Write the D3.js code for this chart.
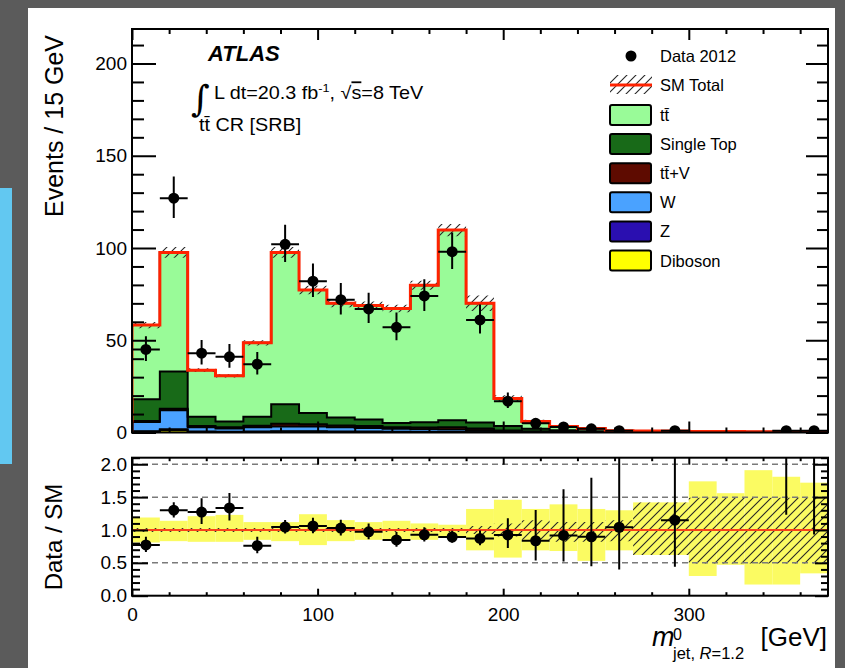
<!DOCTYPE html>
<html>
<head>
<meta charset="utf-8">
<script src="https://cdn.jsdelivr.net/npm/d3@7"></script>
<style>
  body { margin: 0; background: #5b5b5b; }
  svg { display: block; }
</style>
</head>
<body>
<svg id="chart" width="845" height="668"></svg>
<script>
// ---- binning: 15 GeV bins of the leading large-R jet mass ----
const binWidth = 15;
const binLow = [0, 15, 30, 45, 60, 75, 90, 105, 120, 135, 150, 165, 180, 195, 210, 225, 240, 255, 270, 285, 300, 315, 330, 345, 360];

// ---- observed events (Data 2012) ----
const dataCounts = [45, 127, 43, 41, 37, 102, 82, 72, 67, 57, 74, 98, 61, 17, 5, 3, 2, 1, 0, 1, 0, 0, 0, 1, 1];

// ---- background expectations, events per bin ----
const ttbar     = [40.2, 64.6, 25.3, 24.7, 40.1, 82.3, 66.6, 61.9, 61.9, 62.0, 74.3, 103.0, 64.6, 14.9, 4.0, 2.1, 1.5, 0.5, 0.5, 0.6, 0.4, 0.3, 0.3, 0.2, 0.3];
const singleTop = [11.8, 20.1, 5.0, 3.2, 4.8, 10.5, 6.1, 4.3, 3.5, 2.3, 2.8, 3.9, 3.2, 2.35, 1.4, 0.8, 0.5, 0.3, 0.15, 0.15, 0.1, 0.1, 0.05, 0.05, 0.05];
const ttV       = [0.5, 0.8, 0.7, 0.6, 0.9, 1.5, 1.2, 1.0, 1.0, 0.9, 1.0, 1.2, 1.0, 0.4, 0.2, 0.1, 0.08, 0.05, 0.04, 0.04, 0.03, 0.03, 0.02, 0.02, 0.02];
const wjets     = [5.0, 10.4, 2.3, 1.8, 2.3, 2.6, 2.6, 2.3, 2.0, 1.6, 1.4, 1.3, 1.0, 0.6, 0.3, 0.2, 0.1, 0.08, 0.05, 0.05, 0.04, 0.03, 0.02, 0.02, 0.02];
const zjets     = [0.3, 0.5, 0.2, 0.2, 0.2, 0.3, 0.3, 0.2, 0.2, 0.2, 0.1, 0.1, 0.1, 0.05, 0.03, 0.02, 0.02, 0.01, 0.01, 0.01, 0.01, 0.01, 0.01, 0.01, 0.01];
const diboson   = [0.4, 1.2, 0.3, 0.2, 0.3, 0.4, 0.4, 0.3, 0.3, 0.2, 0.2, 0.2, 0.1, 0.1, 0.05, 0.05, 0.03, 0.02, 0.02, 0.02, 0.01, 0.01, 0.01, 0.01, 0.01];

// ---- relative uncertainty bands on the SM total (as Data/SM ratio edges) ----
const sysLo  = [0.81, 0.83, 0.82, 0.82, 0.85, 0.83, 0.77, 0.83, 0.85, 0.85, 0.85, 0.88, 0.69, 0.58, 0.69, 0.68, 0.53, 0.69, 0.62, 0.62, 0.30, 0.47, 0.17, 0.17, 0.34];
const sysHi  = [1.19, 1.14, 1.21, 1.23, 1.12, 1.12, 1.24, 1.15, 1.12, 1.14, 1.10, 1.08, 1.32, 1.46, 1.32, 1.39, 1.32, 1.30, 1.42, 1.42, 1.74, 1.56, 1.91, 1.81, 1.72];
const statLo = [0.97, 0.97, 0.97, 0.97, 0.97, 0.97, 0.97, 0.97, 0.97, 0.97, 0.97, 0.97, 0.94, 0.90, 0.85, 0.82, 0.82, 0.83, 0.62, 0.62, 0.49, 0.49, 0.49, 0.49, 0.49];
const statHi = [1.03, 1.03, 1.03, 1.03, 1.03, 1.03, 1.03, 1.03, 1.03, 1.03, 1.03, 1.03, 1.06, 1.10, 1.15, 1.12, 1.12, 1.15, 1.42, 1.42, 1.49, 1.49, 1.49, 1.49, 1.49];

// ---- axes ----
const xMajorTicks = [0, 100, 200, 300];
const xMinorTicks = [20, 40, 60, 80, 120, 140, 160, 180, 220, 240, 260, 280, 320, 340, 360];
const yMainTicks  = [0, 50, 100, 150, 200];
const yMainMinor  = [10, 20, 30, 40, 60, 70, 80, 90, 110, 120, 130, 140, 160, 170, 180, 190, 210];
const yRatioTicks = [0, 0.5, 1.0, 1.5, 2.0];
const yRatioMinor = [0.1, 0.2, 0.3, 0.4, 0.6, 0.7, 0.8, 0.9, 1.1, 1.2, 1.3, 1.4, 1.6, 1.7, 1.8, 1.9, 2.1];
const ratioGrid   = [0.5, 1.5, 2.0];

// ---- legend ----
const legendData  = "Data 2012";
const legendTotal = "SM Total";
const legendProcesses = [
  { label: "t\u0074\u0304", color: "#99fb98" },
  { label: "Single Top", color: "#186a18" },
  { label: "t\u0074\u0304+V", color: "#5e0b00" },
  { label: "W", color: "#4aa2ff" },
  { label: "Z", color: "#2a0fb0" },
  { label: "Diboson", color: "#ffff00" }
];

const FONT = "'Liberation Sans', Arial, Helvetica, sans-serif";
const svg = d3.select("#chart");

// slide backdrop and white plot canvas
svg.append("rect").attr("width", 845).attr("height", 668).attr("fill", "#5b5b5b");
svg.append("rect").attr("x", 28).attr("y", 8).attr("width", 807).attr("height", 660).attr("fill", "#ffffff");
svg.append("rect").attr("x", 0).attr("y", 188).attr("width", 12).attr("height", 276).attr("fill", "#62c8f1");

// hatch pattern for the SM uncertainty
const defs = svg.append("defs");
defs.append("pattern").attr("id", "hatch").attr("patternUnits", "userSpaceOnUse")
  .attr("width", 9).attr("height", 9)
  .append("path").attr("d", "M0,9 L9,0 M-1,1 L1,-1 M8,10 L10,8")
  .attr("stroke", "#262626").attr("stroke-width", 1.1);

// ---- scales ----
const x = d3.scaleLinear().domain([0, 375]).range([132, 828]);
const yM = d3.scaleLinear().domain([0, 218.7]).range([432.5, 29]);
const yR = d3.scaleLinear().domain([0, 2.1]).range([595.7, 457.7]);

defs.append("clipPath").attr("id", "clipMain").append("rect")
  .attr("x", x(0)).attr("y", yM(218.7)).attr("width", x(375) - x(0)).attr("height", yM(0) - yM(218.7));
defs.append("clipPath").attr("id", "clipRatio").append("rect")
  .attr("x", x(0)).attr("y", yR(2.1)).attr("width", x(375) - x(0)).attr("height", yR(0) - yR(2.1));

// ---- helpers ----
function stepLine(vals, ys) {
  let p = `M${x(binLow[0])},${ys(0)}`;
  vals.forEach((v, i) => { p += `L${x(binLow[i])},${ys(v)}L${x(binLow[i] + binWidth)},${ys(v)}`; });
  p += `L${x(binLow[binLow.length - 1] + binWidth)},${ys(0)}`;
  return p;
}
function stepBand(lo, hi, ys) {
  let p = "";
  hi.forEach((v, i) => { p += `${i ? "L" : "M"}${x(binLow[i])},${ys(v)}L${x(binLow[i] + binWidth)},${ys(v)}`; });
  for (let i = lo.length - 1; i >= 0; i--) p += `L${x(binLow[i] + binWidth)},${ys(lo[i])}L${x(binLow[i])},${ys(lo[i])}`;
  return p + "Z";
}
function poissonErr(n) {
  const s = Math.sqrt(n + 0.25);
  return { up: s + 0.5, down: s - 0.5 };
}

// ---- stacked backgrounds ----
const rows = binLow.map((lo, i) => ({
  diboson: diboson[i], z: zjets[i], w: wjets[i], ttv: ttV[i], st: singleTop[i], tt: ttbar[i]
}));
const keys = ["diboson", "z", "w", "ttv", "st", "tt"];
const colors = { diboson: "#ffff00", z: "#2a0fb0", w: "#4aa2ff", ttv: "#5e0b00", st: "#186a18", tt: "#99fb98" };
const stacked = d3.stack().keys(keys)(rows);
const total = rows.map(r => keys.reduce((s, k) => s + r[k], 0));

const gMain = svg.append("g").attr("clip-path", "url(#clipMain)");
stacked.slice().reverse().forEach(layer => {
  const tops = layer.map(d => d[1]);
  gMain.append("path").attr("d", stepLine(tops, yM)).attr("fill", colors[layer.key]).attr("stroke", "none");
});
stacked.slice().reverse().forEach(layer => {
  const tops = layer.map(d => d[1]);
  gMain.append("path").attr("d", stepLine(tops, yM)).attr("fill", "none")
    .attr("stroke", "#000").attr("stroke-width", 2);
});

// SM total: hatched uncertainty and red outline
gMain.append("path")
  .attr("d", stepBand(total.map((t, i) => t * statLo[i]), total.map((t, i) => t * statHi[i]), yM))
  .attr("fill", "url(#hatch)");
gMain.append("path").attr("d", stepLine(total, yM)).attr("fill", "none")
  .attr("stroke", "#ff2200").attr("stroke-width", 3).attr("stroke-linejoin", "miter");

// data points
function drawPoints(g, vals, errs, ys, r) {
  vals.forEach((v, i) => {
    if (v === null) return;
    const cx = x(binLow[i] + binWidth / 2);
    g.append("line").attr("x1", x(binLow[i])).attr("x2", x(binLow[i] + binWidth))
      .attr("y1", ys(v)).attr("y2", ys(v)).attr("stroke", "#000").attr("stroke-width", 2);
    g.append("line").attr("x1", cx).attr("x2", cx)
      .attr("y1", ys(v + errs[i].up)).attr("y2", ys(Math.max(0, v - errs[i].down)))
      .attr("stroke", "#000").attr("stroke-width", 2);
    g.append("circle").attr("cx", cx).attr("cy", ys(v)).attr("r", r).attr("fill", "#000");
  });
}
const errs = dataCounts.map(poissonErr);
drawPoints(gMain, dataCounts.map(n => n > 0 ? n : null), errs, yM, 5.5);

// ---- ratio panel ----
const gRatio = svg.append("g").attr("clip-path", "url(#clipRatio)");
binLow.forEach((lo, i) => {
  gRatio.append("rect").attr("x", x(lo)).attr("width", x(lo + binWidth) - x(lo))
    .attr("y", yR(sysHi[i])).attr("height", yR(sysLo[i]) - yR(sysHi[i]))
    .attr("fill", "#fbfb62");
});
gRatio.append("path").attr("d", stepBand(statLo, statHi, yR)).attr("fill", "url(#hatch)");
ratioGrid.forEach(v => {
  gRatio.append("line").attr("x1", x(0)).attr("x2", x(375)).attr("y1", yR(v)).attr("y2", yR(v))
    .attr("stroke", "#7a7a7a").attr("stroke-width", 1.5).attr("stroke-dasharray", "6,4");
});
gRatio.append("line").attr("x1", x(0)).attr("x2", x(375)).attr("y1", yR(1)).attr("y2", yR(1))
  .attr("stroke", "#f9421a").attr("stroke-width", 2);
const ratioVals = dataCounts.map((n, i) => n > 0 ? n / total[i] : null);
const ratioErrs = dataCounts.map((n, i) => ({ up: errs[i].up / total[i], down: errs[i].down / total[i] }));
drawPoints(gRatio, ratioVals, ratioErrs, yR, 5.5);

// ---- frames and axes ----
function styleAxis(g, size) {
  g.select(".domain").remove();
  g.selectAll(".tick line").attr("stroke", "#000").attr("stroke-width", 2);
  g.selectAll(".tick text").attr("font-family", FONT).attr("font-size", size || 19).attr("fill", "#000");
}
function addAxes(ys, yMajor, yMinor, lenY, lenYr, lenX, top, bottom, fmt, showX) {
  // left
  svg.append("g").attr("transform", `translate(${x(0)},0)`)
    .call(d3.axisLeft(ys).tickValues(yMajor).tickSizeInner(-lenY[0]).tickSizeOuter(0).tickPadding(5).tickFormat(fmt))
    .call(g => styleAxis(g));
  svg.append("g").attr("transform", `translate(${x(0)},0)`)
    .call(d3.axisLeft(ys).tickValues(yMinor).tickSizeInner(-lenY[1]).tickSizeOuter(0).tickFormat(""))
    .call(g => styleAxis(g));
  // right
  svg.append("g").attr("transform", `translate(${x(375)},0)`)
    .call(d3.axisRight(ys).tickValues(yMajor).tickSizeInner(-lenYr[0]).tickSizeOuter(0).tickFormat(""))
    .call(g => styleAxis(g));
  svg.append("g").attr("transform", `translate(${x(375)},0)`)
    .call(d3.axisRight(ys).tickValues(yMinor).tickSizeInner(-lenYr[1]).tickSizeOuter(0).tickFormat(""))
    .call(g => styleAxis(g));
  // bottom
  svg.append("g").attr("transform", `translate(0,${bottom})`)
    .call(d3.axisBottom(x).tickValues(xMajorTicks).tickSizeInner(-lenX[0]).tickSizeOuter(0).tickPadding(12)
      .tickFormat(showX ? d3.format("d") : ""))
    .call(g => styleAxis(g));
  svg.append("g").attr("transform", `translate(0,${bottom})`)
    .call(d3.axisBottom(x).tickValues(xMinorTicks).tickSizeInner(-lenX[1]).tickSizeOuter(0).tickFormat(""))
    .call(g => styleAxis(g));
  // top
  svg.append("g").attr("transform", `translate(0,${top})`)
    .call(d3.axisTop(x).tickValues(xMajorTicks).tickSizeInner(-lenX[0]).tickSizeOuter(0).tickFormat(""))
    .call(g => styleAxis(g));
  svg.append("g").attr("transform", `translate(0,${top})`)
    .call(d3.axisTop(x).tickValues(xMinorTicks).tickSizeInner(-lenX[1]).tickSizeOuter(0).tickFormat(""))
    .call(g => styleAxis(g));
  svg.append("rect").attr("x", x(0)).attr("y", top).attr("width", x(375) - x(0)).attr("height", bottom - top)
    .attr("fill", "none").attr("stroke", "#000").attr("stroke-width", 2);
}
addAxes(yM, yMainTicks, yMainMinor, [24, 12], [22, 11], [11, 5], yM(218.7), yM(0), d3.format("d"), false);
addAxes(yR, yRatioTicks, yRatioMinor, [16, 8], [13, 7], [7, 3.5], yR(2.1), yR(0), d3.format(".1f"), true);

// ---- axis titles ----
svg.append("text").attr("transform", "translate(63,126) rotate(-90)")
  .attr("text-anchor", "middle").attr("font-family", FONT).attr("font-size", 25).text("Events / 15 GeV");
svg.append("text").attr("transform", "translate(62,537) rotate(-90)")
  .attr("text-anchor", "middle").attr("font-family", FONT).attr("font-size", 24).text("Data / SM");

const xt = svg.append("g").attr("font-family", FONT).attr("fill", "#000");
xt.append("text").attr("x", 652).attr("y", 646).attr("font-size", 27).attr("font-style", "italic").text("m");
xt.append("text").attr("x", 673).attr("y", 640).attr("font-size", 16).text("0");
const sub = xt.append("text").attr("x", 673).attr("y", 658.5).attr("font-size", 16.5);
sub.append("tspan").text("jet, ");
sub.append("tspan").attr("font-style", "italic").text("R");
sub.append("tspan").text("=1.2");
xt.append("text").attr("x", 827).attr("y", 646).attr("text-anchor", "end").attr("font-size", 26).text("[GeV]");

// ---- ATLAS label block ----
svg.append("text").attr("x", 208).attr("y", 61).attr("font-family", FONT).attr("font-size", 22)
  .attr("font-weight", "bold").attr("font-style", "italic").text("ATLAS");
svg.append("text").attr("x", 191).attr("y", 111).attr("font-family", "'DejaVu Serif', serif")
  .attr("font-size", 36).text("\u222B");
const lumi = svg.append("text").attr("transform", "translate(214,98.5) scale(1.1,1)")
  .attr("font-family", FONT).attr("font-size", 18);
lumi.append("tspan").text("L dt=20.3 fb");
lumi.append("tspan").attr("font-size", 11.5).attr("dy", -7).text("-1");
lumi.append("tspan").attr("dy", 7).text(", \u221A");
lumi.append("tspan").attr("text-decoration", "overline").text("s");
lumi.append("tspan").text("=8 TeV");
svg.append("text").attr("transform", "translate(199,130.5) scale(1.1,1)")
  .attr("font-family", FONT).attr("font-size", 18).text("t\u0074\u0304 CR [SRB]");

// ---- legend ----
const lg = svg.append("g").attr("font-family", FONT).attr("font-size", 16.5);
lg.append("circle").attr("cx", 631).attr("cy", 56).attr("r", 5.5).attr("fill", "#000");
lg.append("text").attr("x", 660).attr("y", 62).text(legendData);
lg.append("rect").attr("x", 610).attr("y", 75).attr("width", 42).attr("height", 19).attr("fill", "url(#hatch)");
lg.append("line").attr("x1", 610).attr("x2", 652).attr("y1", 85).attr("y2", 85)
  .attr("stroke", "#ff2200").attr("stroke-width", 3);
lg.append("text").attr("x", 660).attr("y", 91).text(legendTotal);
legendProcesses.forEach((p, i) => {
  const cy = 115 + i * 29.1;
  lg.append("rect").attr("x", 610).attr("y", cy - 10).attr("width", 41).attr("height", 20)
    .attr("rx", 2).attr("fill", p.color).attr("stroke", "#000").attr("stroke-width", 2);
  lg.append("text").attr("x", 660).attr("y", cy + 6).text(p.label);
});
</script>
</body>
</html>
